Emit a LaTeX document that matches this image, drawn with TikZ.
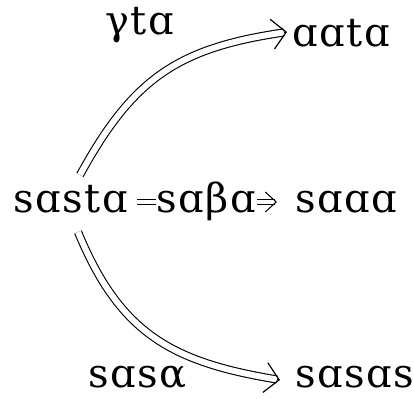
\documentclass[tikz,border=0pt]{standalone}
\usepackage{fontspec}
\setmainfont{DejaVu Serif}[LetterSpace=4]
\usetikzlibrary{arrows.meta,calc}
\begin{document}
\begin{tikzpicture}[x=1pt,y=1pt,
  lbl/.style={inner sep=0pt, anchor=base west, font=\fontsize{40}{48}\selectfont},
  dblbig/.style={double, double distance=6pt, line width=1.1pt, shorten >=3.2pt},
  tipbig/.style={line width=1.2pt, -{Straight Barb[length=14pt, width=30pt]}},
  dblsmall/.style={double, double distance=3.4pt, line width=1pt, shorten >=2pt},
  tipsmall/.style={line width=1pt, -{Straight Barb[length=11pt, width=20pt]}}]
\useasboundingbox (0,0) rectangle (414,-398);
\node[lbl] (s) at (13,-212) {sɑstɑ};
\node[lbl] (t) at (292,-47) {ɑɑtɑ};
\node[lbl] (m) at (295,-212) {sɑɑɑ};
\node[lbl] (b) at (295,-387) {sɑsɑs};
\coordinate (s1) at (80,-175);
\coordinate (t1) at (287,-32);
\coordinate (s2) at (78,-232);
\coordinate (b1) at (280,-380);
\coordinate (s3) at (137,-202);
\coordinate (m1) at (277,-202);
% top curved arrow
\draw[dblbig] (s1) .. controls (133,-78) and (178,-48) .. (t1);
\draw[tipbig] ($(t1)!3pt!(178,-48)$) -- (t1);
% bottom curved arrow
\draw[dblbig] (s2) .. controls (120,-333.5) and (171.5,-362) .. (b1);
\draw[tipbig] ($(b1)!3pt!(171.5,-362)$) -- (b1);
% middle arrow
\draw[dblsmall] (s3) -- (m1);
\draw[tipsmall] ($(m1)+(-2,0)$) -- (m1);
\node[lbl] (g) at (105,-35) {γtɑ};
\node[lbl] (al) at (88,-387) {sɑsα};
\node[lbl, fill=white, inner sep=0.5pt] (be) at (156,-212) {sɑβɑ};
\end{tikzpicture}
\end{document}
